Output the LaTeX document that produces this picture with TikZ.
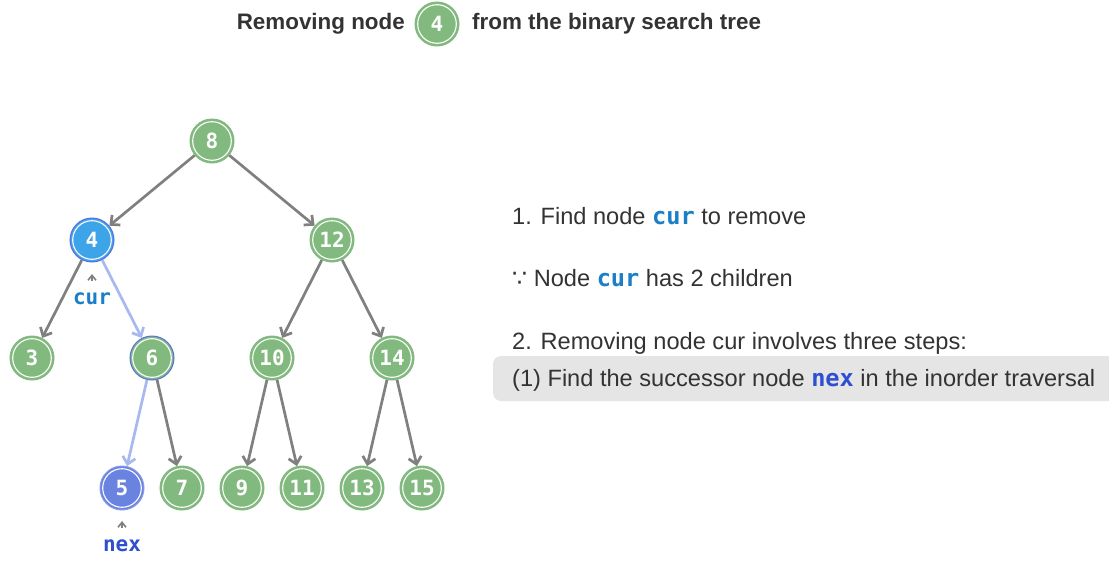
\documentclass[tikz,border=0pt]{standalone}
\usepackage{fontspec}
\setmainfont{Liberation Sans}
\setmonofont{DejaVu Sans Mono}
\newfontfamily\symfont{DejaVu Sans}
\usetikzlibrary{arrows.meta}
\definecolor{gfill}{HTML}{82B97F}
\definecolor{bfill}{HTML}{3EA4E8}
\definecolor{pfill}{HTML}{6A82E0}
\definecolor{ring}{HTML}{5A6FE0}
\definecolor{edge}{HTML}{808080}
\definecolor{ledge}{HTML}{A8B8F0}
\definecolor{curc}{HTML}{1A7FC7}
\definecolor{nexc}{HTML}{2E4FD0}
\definecolor{txt}{HTML}{333333}
\definecolor{boxc}{HTML}{E5E5E5}
\tikzset{
  tn/.style={circle, minimum size=44pt, inner sep=0pt, fill=gfill, draw=gfill, line width=1pt,
    text=white, font=\fontsize{21}{22}\selectfont\ttfamily\bfseries,
    path picture={\draw[white,line width=1.1pt] (path picture bounding box.center) circle (19.3pt);}},
  curnode/.style={tn, fill=bfill, draw=ring},
  ringnode/.style={tn, draw=ring},
  nexnode/.style={tn, fill=pfill, draw=pfill!80!white},
  ed/.style={draw=edge, line width=2.7pt, -{Straight Barb[length=7pt,width=13pt]}},
  led/.style={ed, draw=ledge},
  ptr/.style={draw=edge, line width=1.6pt, -{Straight Barb[length=5pt,width=8pt]}},
  body/.style={anchor=west, text=txt, font=\fontsize{23.6}{26}\selectfont, inner sep=0pt},
  ttl/.style={text=txt, font=\fontsize{22.4}{24}\selectfont\bfseries, inner sep=0pt},
  lbl/.style={font=\fontsize{21}{22}\selectfont\ttfamily\bfseries, inner sep=0pt}
}
\newcommand{\cw}{{\ttfamily\bfseries\color{curc}cur}}
\newcommand{\nw}{{\ttfamily\bfseries\color{nexc}nex}}
\begin{document}
\begin{tikzpicture}[x=1pt,y=-1pt]
\useasboundingbox (0,0) rectangle (1109,560);
\fill[white] (0,0) rectangle (1109,560);
% title
\node[ttl, anchor=east] (t1) at (405,24) {Removing node};
\node[tn] (tc) at (437,24) {4};
\node[ttl, anchor=west] (t2) at (472,24) {from the binary search tree};
% nodes
\node[tn] (n8) at (212,141) {8};
\node[curnode] (n4) at (92,240) {4};
\node[tn] (n12) at (332,240) {12};
\node[tn] (n3) at (32,358) {3};
\node[ringnode] (n6) at (152,358) {6};
\node[tn] (n10) at (272,358) {10};
\node[tn] (n14) at (392,358) {14};
\node[nexnode] (n5) at (122,488) {5};
\node[tn] (n7) at (182,488) {7};
\node[tn] (n9) at (242,488) {9};
\node[tn] (n11) at (302,488) {11};
\node[tn] (n13) at (362,488) {13};
\node[tn] (n15) at (422,488) {15};
% edges
\draw[ed] (n8) -- (n4);
\draw[ed] (n8) -- (n12);
\draw[ed] (n4) -- (n3);
\draw[led] (n4) -- (n6);
\draw[ed] (n12) -- (n10);
\draw[ed] (n12) -- (n14);
\draw[led] (n6) -- (n5);
\draw[ed] (n6) -- (n7);
\draw[ed] (n10) -- (n9);
\draw[ed] (n10) -- (n11);
\draw[ed] (n14) -- (n13);
\draw[ed] (n14) -- (n15);
% labels
\node[lbl, text=curc] (lcur) at (92,299) {cur};
\coordinate (pc) at (92,274);
\draw[ptr] (92,281) -- (pc);
\node[lbl, text=nexc] (lnex) at (122,546) {nex};
\coordinate (pn) at (122,521);
\draw[ptr] (122,528) -- (pn);
% text
\fill[boxc, rounded corners=8pt] (493,356) rectangle (1125,401);
\node[body] (s1) at (512,216) {1. Find node \cw{} to remove};
\node[body] (s2) at (512,278) {{\symfont ∵} Node \cw{} has 2 children};
\node[body] (s3) at (512,343) {2. Removing node cur involves three steps:};
\node[body] (s4) at (512,380) {(1) Find the successor node \nw{} in the inorder traversal};
\end{tikzpicture}
\end{document}
